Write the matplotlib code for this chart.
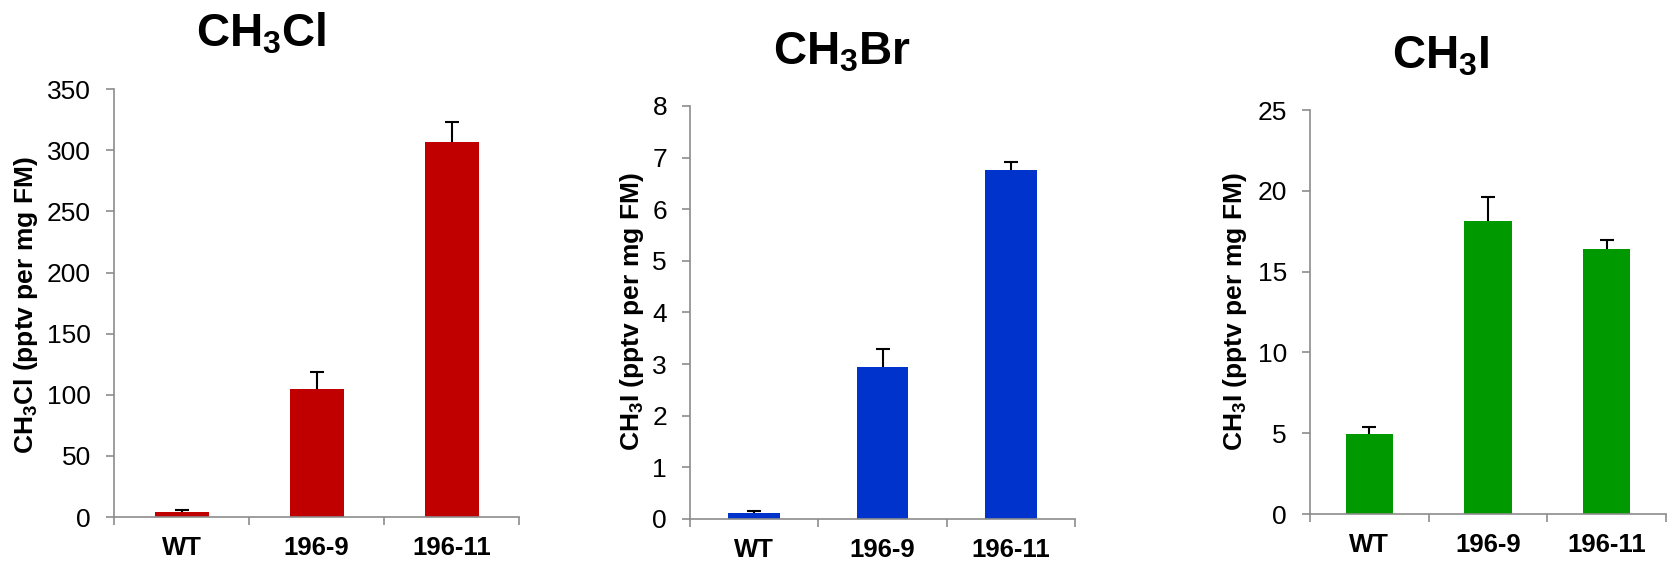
import matplotlib
matplotlib.use('Agg')
import matplotlib.pyplot as plt

plt.rcParams['font.family'] = ['Liberation Sans', 'DejaVu Sans']
plt.rcParams['mathtext.fontset'] = 'custom'
plt.rcParams['mathtext.rm'] = 'Liberation Sans:bold'
plt.rcParams['mathtext.it'] = 'Liberation Sans:bold'
plt.rcParams['mathtext.bf'] = 'Liberation Sans:bold'
plt.rcParams['mathtext.default'] = 'rm'

#%% Data
categories = ['WT', '196-9', '196-11']

ch3cl_mean = [4.5, 105, 307]
ch3cl_err = [1.3, 13.5, 16]

ch3br_mean = [0.11, 2.94, 6.75]
ch3br_err = [0.035, 0.35, 0.16]

ch3i_mean = [4.97, 18.14, 16.43]
ch3i_err = [0.43, 1.5, 0.5]

titles = ['CH$_3$Cl', 'CH$_3$Br', 'CH$_3$I']
ylabels = ['CH$_3$Cl (pptv per mg FM)',
           'CH$_3$I (pptv per mg FM)',
           'CH$_3$I (pptv per mg FM)']
yticks = [range(0, 351, 50), range(0, 9, 1), range(0, 26, 5)]
colors = ['#C00000', '#0033CC', '#009900']

#%% Layout (figure fractions)
axes_pos = [[0.0684, 0.0817, 0.2430, 0.7600],
            [0.4139, 0.0782, 0.2310, 0.7336],
            [0.7858, 0.0870, 0.2136, 0.7176]]
title_xy = [(261, 47), (842, 65), (1441, 68)]
ylabel_xy = [(26, 305), (632, 312), (1235, 312)]

W, H = 1667, 563
fig = plt.figure(figsize=(W / 100, H / 100), dpi=100)

data = [(ch3cl_mean, ch3cl_err), (ch3br_mean, ch3br_err), (ch3i_mean, ch3i_err)]
axis_grey = '#8C8C8C'

for i, (mean, err) in enumerate(data):
    ax = fig.add_axes(axes_pos[i])
    x = range(len(categories))
    ax.bar(x, mean, width=0.4, color=colors[i], zorder=2)
    eb = ax.errorbar(x, mean, yerr=[[0] * len(err), err], fmt='none',
                     ecolor='black', elinewidth=1.5, capsize=5, capthick=1.5, zorder=3)
    # only keep the upper caps
    eb[1][0].set_visible(False)

    ax.set_xlim(-0.5, 2.5)
    ax.set_ylim(0, max(yticks[i]))
    ax.set_yticks(list(yticks[i]))
    ax.set_xticks(list(x))
    ax.set_xticklabels(categories, fontsize=18.5, fontweight='bold')
    ax.set_xticks([-0.5, 0.5, 1.5, 2.5], minor=True)
    ax.tick_params(axis='x', which='major', length=0, pad=14)
    ax.tick_params(axis='x', which='minor', length=5.5, width=1.2, color=axis_grey, direction='out')
    ax.tick_params(axis='y', length=5.5, width=1.2, color=axis_grey, pad=11, labelsize=19)

    for side in ['top', 'right']:
        ax.spines[side].set_visible(False)
    for side in ['left', 'bottom']:
        ax.spines[side].set_color(axis_grey)
        ax.spines[side].set_linewidth(1.2)

    tx, ty = title_xy[i]
    fig.text(tx / W, 1 - ty / H, titles[i], fontsize=33, fontweight='bold',
             ha='center', va='baseline')
    lx, ly = ylabel_xy[i]
    fig.text(lx / W, 1 - ly / H, ylabels[i], fontsize=19, fontweight='bold',
             rotation=90, ha='center', va='center')

fig.savefig('out.png', dpi=100)
